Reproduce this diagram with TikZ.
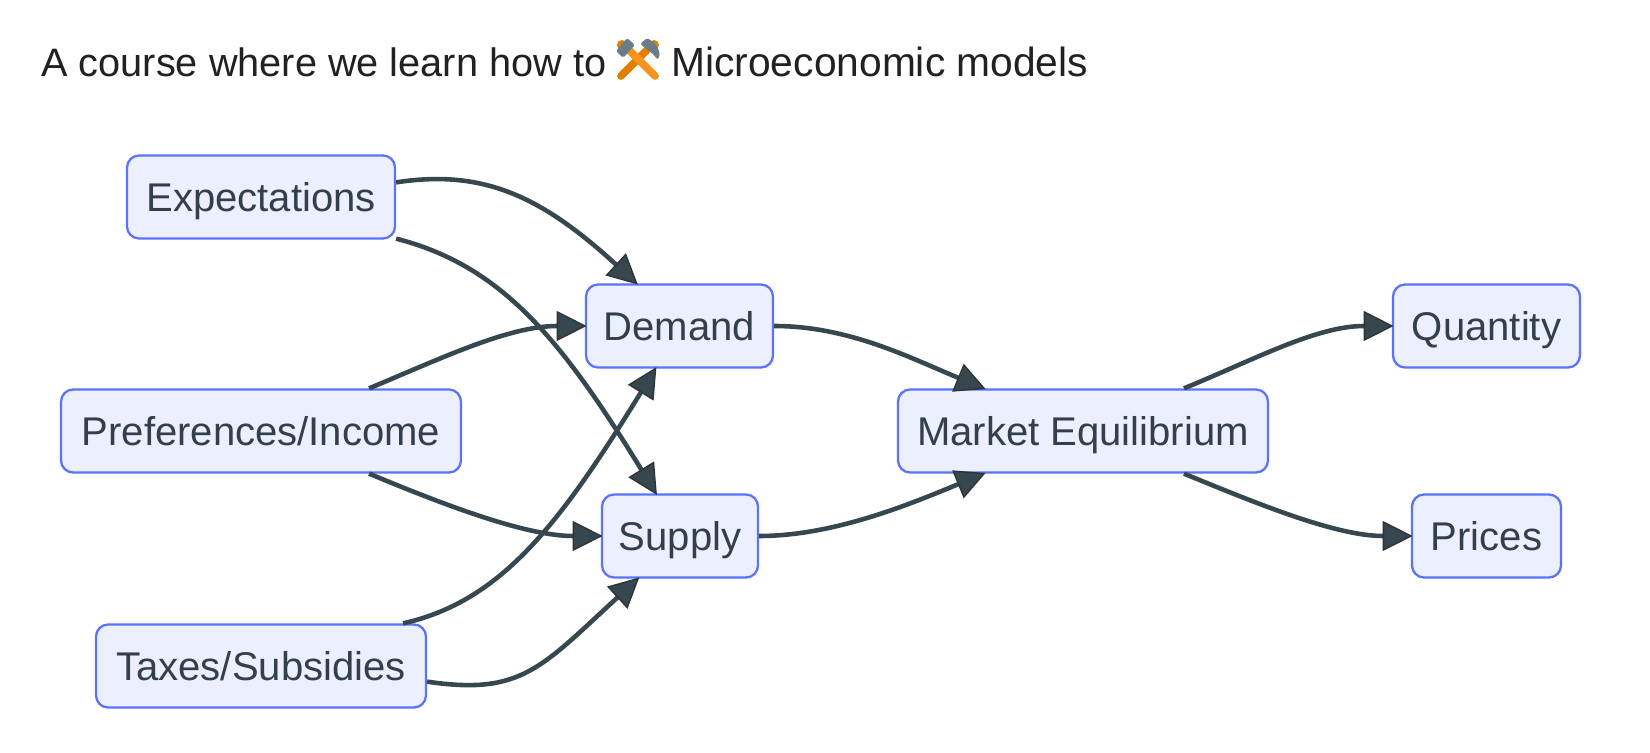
\documentclass[tikz,border=0pt]{standalone}
\usepackage{fontspec}
\setmainfont{Liberation Sans}
\usepackage{xcolor}
\usetikzlibrary{arrows.meta}
\definecolor{TitleInk}{HTML}{212121}
\definecolor{BoxInk}{HTML}{333F4A}
\definecolor{BoxLine}{HTML}{5B73FA}
\definecolor{BoxFill}{HTML}{ECF0FE}
\definecolor{LinkInk}{HTML}{37474F}
\definecolor{TipLine}{HTML}{2F3437}
\definecolor{HeadGray}{HTML}{6B7C89}
\definecolor{HandleDark}{HTML}{E27F00}
\definecolor{HandleLight}{HTML}{F7941D}
\tikzset{
  figure/.style={x=0.02cm,y=-0.02cm,text=BoxInk},
  box/.style={draw=BoxLine,fill=BoxFill,line width=1.3pt,rounded corners=2.4mm,
    minimum height=1.66cm,inner sep=0pt,text height=16.4pt,text depth=0pt,
    font=\fontsize{22.8}{27}\selectfont},
  link/.style={draw=LinkInk,line width=2.6pt,shorten >=-1pt,
    -{Triangle[length=6mm,width=6mm,line width=0.8pt,fill=LinkInk,color=TipLine]}},
  titletext/.style={font=\fontsize{22.6}{27}\selectfont,text=TitleInk,inner sep=0pt,
    text height=16.4pt,text depth=0pt},
}
\begin{document}
\begin{tikzpicture}[figure]
  \useasboundingbox (0,0) rectangle (1650,753);
  \fill[white] (0,0) rectangle (1650,753);

  \node[titletext,anchor=west] (titlestart) at (41,62) {A course where we learn how to};
  \node[titletext,anchor=west,font=\fontsize{23.2}{27}\selectfont] (titleend) at (671,62) {Microeconomic models};

  % crossed tools
  \fill[HandleDark] (622,45) circle[radius=5];
  \fill[HandleDark] (654,45) circle[radius=5];
  \draw[HandleDark,line width=4.4pt,line cap=round] (621,76) -- (648,49);
  \draw[HandleLight,line width=4.4pt,line cap=round] (655,76) -- (628,49);
  \fill[HeadGray,rounded corners=1pt] (616,51) -- (627,38) -- (635,45) -- (623,58) -- cycle;
  \fill[HeadGray,rounded corners=1pt] (640,44) -- (647,38) -- (655,43) -- (660,53) -- (658,60) -- (652,53) -- cycle;

  \node[box,minimum width=5.36cm] (expect) at (261,197) {Expectations};
  \node[box,minimum width=8.0cm] (prefs) at (261,431) {Preferences/Income};
  \node[box,minimum width=6.6cm] (taxes) at (261,666) {Taxes/Subsidies};
  \node[box,minimum width=3.74cm] (demand) at (679.5,326) {Demand};
  \node[box,minimum width=3.12cm] (supply) at (680,536) {Supply};
  \node[box,minimum width=7.4cm] (market) at (1083,431) {Market Equilibrium};
  \node[box,minimum width=3.74cm] (quantity) at (1486.5,326) {Quantity};
  \node[box,minimum width=2.98cm] (prices) at (1486.5,536) {Prices};

  \draw[link] ([shift={(0,28)}]expect.north east) .. controls +(85,-13) and +(-97,-89) .. ([shift={(-43,0)}]demand.north);
  \draw[link] ([shift={(0,-1)}]expect.south east) .. controls +(105,27) and +(-96,-156) .. ([shift={(-24,0)}]supply.north);
  \draw[link] ([shift={(-93,0)}]prefs.north east) .. controls +(72,-30) and +(-76,0) .. (demand.west);
  \draw[link] ([shift={(-93,0)}]prefs.south east) .. controls +(72,30) and +(-76,0) .. (supply.west);
  \draw[link] ([shift={(-24,0)}]taxes.north east) .. controls +(98,-22) and +(-96,156) .. ([shift={(-24,0)}]demand.south);
  \draw[link] ([shift={(0,-27)}]taxes.south east) .. controls +(94,14) and +(-97,89) .. ([shift={(-42,0)}]supply.south);
  \draw[link] (demand.east) .. controls +(75,0) and +(-73,-30) .. ([shift={(-99,0)}]market.north);
  \draw[link] (supply.east) .. controls +(75,0) and +(-73,30) .. ([shift={(-99,0)}]market.south);
  \draw[link] ([shift={(101,0)}]market.north) .. controls +(73,-30) and +(-75,0) .. (quantity.west);
  \draw[link] ([shift={(101,0)}]market.south) .. controls +(73,30) and +(-75,0) .. (prices.west);
\end{tikzpicture}
\end{document}
